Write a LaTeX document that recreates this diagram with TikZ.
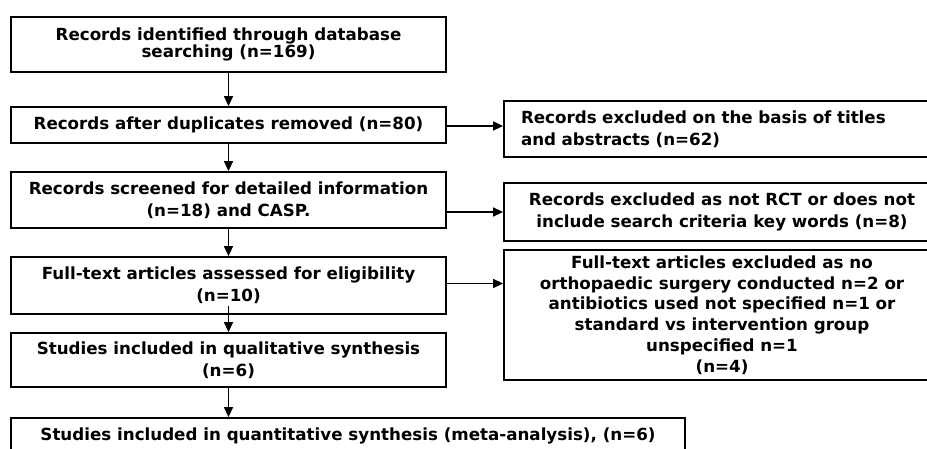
\documentclass[tikz,border=0pt]{standalone}
\usepackage{fontspec}
\setmainfont{DejaVu Sans}
\usetikzlibrary{arrows.meta}
\tikzset{
  box/.style={draw=black, line width=1.8pt, fill=white, inner sep=0pt, align=center,
    font=\fontsize{16.7}{21.6}\selectfont\bfseries},
  arr/.style={line width=1.5pt, -{Triangle[length=10pt,width=9pt]}}
}
\begin{document}
\begin{tikzpicture}[x=1pt,y=-1pt]
\useasboundingbox (0,0) rectangle (927,448);
\clip (0,0) rectangle (927,448);
\fill[white] (0,0) rectangle (927,448);
% left column
\node[box, minimum width=435pt, minimum height=55pt,
      font=\fontsize{16.7}{16.7}\selectfont\bfseries] (b1) at (228.5,44.5)
  {Records identified through database\\searching (n=169)};
\node[box, minimum width=435pt, minimum height=36pt] (b2) at (228.5,125)
  {Records after duplicates removed (n=80)};
\node[box, minimum width=435pt, minimum height=56pt] (b3) at (228.5,200)
  {Records screened for detailed information\\(n=18) and CASP.};
\node[box, minimum width=435pt, minimum height=57pt] (b4) at (228.5,285.5)
  {Full-text articles assessed for eligibility\\(n=10)};
\node[box, minimum width=435pt, minimum height=54pt] (b5) at (228.5,360)
  {Studies included in qualitative synthesis\\(n=6)};
\node[box, minimum width=674pt, minimum height=36pt] (b6) at (348,436)
  {Studies included in quantitative synthesis (meta-analysis), (n=6)};
% right column
\node[box, align=left, text width=402pt, inner xsep=17pt, minimum height=56pt] (r1) at (722,129)
  {Records excluded on the basis of titles\\and abstracts (n=62)};
\node[box, minimum width=436pt, minimum height=58pt] (r2) at (722,212)
  {Records excluded as not RCT or does not\\include search criteria key words (n=8)};
\node[box, minimum width=436pt, minimum height=130pt,
      font=\fontsize{16.7}{20.7}\selectfont\bfseries] (r3) at (722,315)
  {Full-text articles excluded as no\\orthopaedic surgery conducted n=2 or\\antibiotics used not specified n=1 or\\standard vs intervention group\\unspecified n=1\\(n=4)};
% vertical arrows
\draw[arr] (b1.south) -- (b2.north);
\draw[arr] (b2.south) -- (b3.north);
\draw[arr] (b3.south) -- (b4.north);
\coordinate (a4) at ([yshift=9pt]b4.south);
\draw[arr] (a4) -- (b5.north);
\draw[arr] (b5.south) -- (b5.south |- b6.north);
% horizontal arrows
\draw[arr] ([yshift=-1pt]b2.east) -- ([yshift=-1pt]b2.east -| r1.west);
\draw[arr] (b3.east |- r2.west) -- (r2.west);
\draw[arr] ([yshift=2pt]b4.east) -- ([yshift=2pt]b4.east -| r3.west);
\end{tikzpicture}
\end{document}
